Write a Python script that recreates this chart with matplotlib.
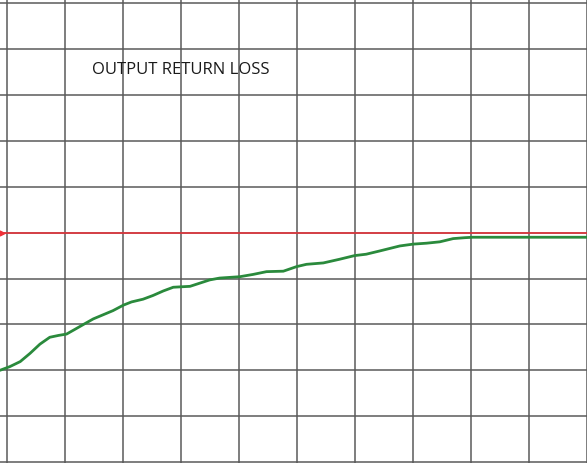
import numpy as np
import matplotlib.pyplot as plt

# screen divisions (10 x 10)
freq_div = [-0.13, 0.04, 0.22, 0.39, 0.56, 0.73, 0.88, 1.02, 1.16, 1.34,
            1.48, 1.65, 1.82, 2.00, 2.14, 2.34, 2.51, 2.69, 2.86, 3.00,
            3.15, 3.32, 3.49, 3.66, 4.01, 4.24, 4.47, 4.76, 4.99, 5.16,
            5.45, 5.73, 5.99, 6.19, 6.42, 6.77, 7.00, 7.23, 7.46, 7.69,
            7.89, 8.03, 8.27, 10.0]
loss_div = [2.00, 2.08, 2.19, 2.37, 2.57, 2.72, 2.76, 2.79, 2.89, 3.02,
            3.12, 3.21, 3.30, 3.42, 3.49, 3.55, 3.63, 3.73, 3.81, 3.82,
            3.83, 3.90, 3.97, 4.01, 4.04, 4.09, 4.15, 4.16, 4.26, 4.31,
            4.34, 4.42, 4.50, 4.53, 4.60, 4.71, 4.75, 4.77, 4.80, 4.87,
            4.89, 4.90, 4.90, 4.90]
ref_level = 5.0
title = "OUTPUT RETURN LOSS"

fig = plt.figure(figsize=(5.87, 4.63), dpi=100)
ax = fig.add_axes([0, 0, 1, 1])
ax.set_xlim(-0.129, 10.0)
ax.set_ylim(-0.02, 10.07)
ax.set_axis_off()

# graticule
for i in range(11):
    ax.axvline(i, color="#5a5a5a", lw=1.1, zorder=1)
    ax.axhline(i, color="#5a5a5a", lw=1.1, zorder=1)

# reference line with marker at left edge
ax.axhline(ref_level, color="#ee3038", lw=1.1, zorder=2)
ax.plot([-0.09], [ref_level], marker=">", color="#ee3038", ms=3.5, zorder=3,
        clip_on=False)

ax.plot(freq_div, loss_div, color="#2a8a3c", lw=2.0, solid_capstyle="round",
        solid_joinstyle="round", zorder=4)

ax.text(1.457, 8.54, title, ha="left", va="center", fontsize=12,
        family="Open Sans", color="#1a1a1a")

fig.savefig("out.png", dpi=100)
